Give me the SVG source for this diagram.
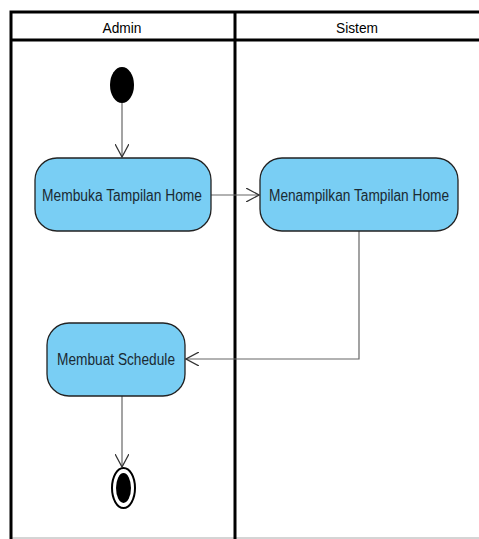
<svg xmlns="http://www.w3.org/2000/svg" width="479" height="539" viewBox="0 0 479 539">
<style>
.frame{fill:none;stroke:#000;stroke-width:3}
.act{fill:#79cef4;stroke:#222;stroke-width:1.3}
.lbl{font-family:"Liberation Sans",Arial,sans-serif;font-size:16px;fill:#1a2a33;text-anchor:middle;dominant-baseline:central}
.hdr{font-family:"Liberation Sans",Arial,sans-serif;font-size:15px;fill:#000;text-anchor:middle;dominant-baseline:central}
.flow{fill:none;stroke:#666;stroke-width:1.2}
</style>
<defs>
<marker id="open" viewBox="0 0 14 14" refX="13" refY="7" markerWidth="14" markerHeight="14" markerUnits="userSpaceOnUse" orient="auto">
<path d="M0,0 L13,7 L0,14" fill="none" stroke="#333" stroke-width="1.3"/>
</marker>
</defs>
<g id="swimlanes">
<line x1="11" y1="538" x2="479" y2="538" stroke="#aaa" stroke-width="1"/>
<path class="frame" d="M481,12 L11,12 L11,539"/>
<line class="frame" x1="11" y1="40" x2="481" y2="40"/>
<line class="frame" x1="235" y1="12" x2="235" y2="539"/>
<text class="hdr" x="122" y="27" textLength="39" lengthAdjust="spacingAndGlyphs">Admin</text>
<text class="hdr" x="357" y="27" textLength="42" lengthAdjust="spacingAndGlyphs">Sistem</text>
</g>
<g id="connectors">
<line class="flow" x1="122" y1="103" x2="122" y2="157" marker-end="url(#open)"/>
<line class="flow" x1="211" y1="195" x2="259" y2="195" stroke="#222" marker-end="url(#open)"/>
<polyline class="flow" points="359,231 359,359 186,359" marker-end="url(#open)"/>
<line class="flow" x1="122" y1="396" x2="122" y2="467" marker-end="url(#open)"/>
</g>
<g id="start">
<ellipse cx="122" cy="85" rx="12" ry="18" fill="#000"/>
</g>
<g id="membuka-tampilan-home">
<rect class="act" x="35" y="158" width="176" height="73" rx="22" ry="22"/>
<text class="lbl" x="122" y="195" textLength="160" lengthAdjust="spacingAndGlyphs">Membuka Tampilan Home</text>
</g>
<g id="menampilkan-tampilan-home">
<rect class="act" x="260" y="158" width="198" height="73" rx="22" ry="22"/>
<text class="lbl" x="359" y="195" textLength="180" lengthAdjust="spacingAndGlyphs">Menampilkan Tampilan Home</text>
</g>
<g id="membuat-schedule">
<rect class="act" x="47" y="323" width="138" height="73" rx="22" ry="22"/>
<text class="lbl" x="116" y="359" textLength="118" lengthAdjust="spacingAndGlyphs">Membuat Schedule</text>
</g>
<g id="end">
<ellipse cx="123.5" cy="488" rx="11.5" ry="20" fill="#fff" stroke="#000" stroke-width="2"/>
<ellipse cx="123.5" cy="488" rx="7.5" ry="15" fill="#000"/>
</g>
</svg>
